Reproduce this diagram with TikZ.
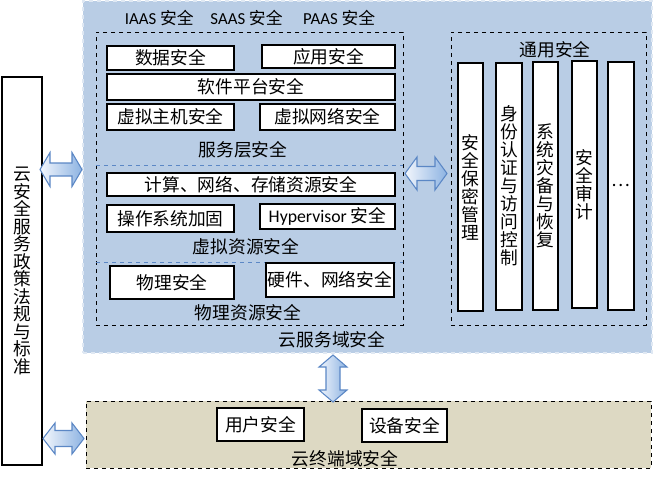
\documentclass[tikz,border=0pt]{standalone}
\usepackage{fontspec}
\setmainfont{Noto Sans CJK SC}
\newfontfamily\latin{Carlito}
\usetikzlibrary{fit}
\definecolor{cloudblue}{HTML}{B9CDE5}
\definecolor{termtan}{HTML}{DDD9C3}
\definecolor{arrowblue}{HTML}{5B87C5}
\definecolor{arrowlight}{HTML}{F2F6FC}
\definecolor{arrowdark}{HTML}{8DB3E2}
\newcommand\hdarrow[6]{\path[barrow] (#1,#3) -- ({#1+#6},{#3-#4}) -- ({#1+#6},{#3-#5}) -- ({#2-#6},{#3-#5}) -- ({#2-#6},{#3-#4}) -- (#2,#3) -- ({#2-#6},{#3+#4}) -- ({#2-#6},{#3+#5}) -- ({#1+#6},{#3+#5}) -- ({#1+#6},{#3+#4}) -- cycle;}
\newcommand\vdarrow[6]{\path[barrow] (#1,#2) -- ({#1+#4},{#2+#6}) -- ({#1+#5},{#2+#6}) -- ({#1+#5},{#3-#6}) -- ({#1+#4},{#3-#6}) -- (#1,#3) -- ({#1-#4},{#3-#6}) -- ({#1-#5},{#3-#6}) -- ({#1-#5},{#2+#6}) -- ({#1-#4},{#2+#6}) -- cycle;}
\begin{document}
\begin{tikzpicture}[x=0.75pt,y=-0.75pt,
  font=\fontsize{13.3}{13.5}\selectfont,
  box/.style={draw=black, fill=white, line width=0.8pt, inner sep=0pt},
  region/.style={draw=black, dashed, line width=0.7pt, inner sep=0pt},
  sepline/.style={draw=arrowblue, dashed, line width=0.6pt},
  barrow/.style={draw=arrowblue, line width=0.8pt, left color=arrowlight, right color=arrowdark},
  lbl/.style={inner sep=0pt},
  vlbl/.style={inner sep=0pt, align=center, font=\fontsize{13.3}{13.5}\selectfont}]
\useasboundingbox (0,0) rectangle (653,476);

% cloud service domain background
\node[fit={(83,1)(652,353)}, fill=cloudblue, draw=white!55!cloudblue, dashed, line width=0.8pt, inner sep=0pt] (cloud) {};
\node[lbl, font=\fontsize{12.6}{12.6}\selectfont] (tiers) at (250,18) {{\latin IAAS} 安全\quad{\latin SAAS} 安全\quad\ {\latin PAAS} 安全};

% left dashed region
\node[region, fit={(96,32)(403,325)}] (layers) {};
\coordinate (s1l) at (96,165); \coordinate (s1r) at (403,165);
\coordinate (s2l) at (96,262); \coordinate (s2r) at (403,262);
\draw[sepline] (s1l) -- (s1r);
\draw[sepline] (s2l) -- (s2r);

\node[box, fit={(107,46)(234,70)}] (data) {};
\node[lbl] at (data.center) {数据安全};
\node[box, fit={(262,45)(395,68)}] (app) {};
\node[lbl] at (app.center) {应用安全};
\node[box, fit={(107,74)(395,100)}] (soft) {};
\node[lbl] at (soft.center) {软件平台安全};
\node[box, fit={(107,104)(234,130)}] (vhost) {};
\node[lbl] at (vhost.center) {虚拟主机安全};
\node[box, fit={(260,104)(395,130)}] (vnet) {};
\node[lbl] at (vnet.center) {虚拟网络安全};
\node[lbl] (svc) at (243,150) {服务层安全};

\node[box, fit={(107,173)(395,196)}] (compute) {};
\node[lbl] at (compute.center) {计算、网络、存储资源安全};
\node[box, fit={(107,205)(234,232)}] (os) {};
\node[lbl] at (os.center) {操作系统加固};
\node[box, fit={(260,204)(395,229)}] (hyper) {};
\node[lbl] at (hyper.center) {{\latin Hypervisor} 安全};
\node[lbl] (virt) at (246,247) {虚拟资源安全};

\node[box, fit={(110,266)(234,299)}] (phys) {};
\node[lbl] at (phys.center) {物理安全};
\node[box, fit={(266,263)(394,297)}] (hw) {};
\node[lbl] at (hw.center) {硬件、网络安全};
\node[lbl] (physres) at (248,313) {物理资源安全};

\node[lbl] (cloudlbl) at (332,340) {云服务域安全};

% right dashed region
\node[region, fit={(451,32)(646,325)}] (common) {};
\node[lbl] (commonlbl) at (555,50) {通用安全};
\node[box, fit={(458,63)(483,311)}] (c1) {};
\node[box, fit={(496,63)(522,310)}] (c2) {};
\node[box, fit={(533,62)(558,310)}] (c3) {};
\node[box, fit={(572,61)(597,308)}] (c4) {};
\node[box, fit={(608,62)(634,310)}] (c5) {};
\node[vlbl] (t1) at (470.5,187) {安\\全\\保\\密\\管\\理};
\node[vlbl] (t2) at (509,186) {身\\份\\认\\证\\与\\访\\问\\控\\制};
\node[vlbl] (t3) at (545.5,186) {系\\统\\灾\\备\\与\\恢\\复};
\node[vlbl] (t4) at (584.5,185) {安\\全\\审\\计};
\node[lbl] (t5) at (621,185) {…};

% left policy column
\node[box, fit={(2,77)(42,465)}] (policy) {};
\node[vlbl, font=\fontsize{13.3}{13.1}\selectfont] (policylbl) at (22,271) {云\\安\\全\\服\\务\\政\\策\\法\\规\\与\\标\\准};

% terminal domain
\node[fit={(86,401)(651,468)}, fill=termtan, draw=black, dashed, line width=0.7pt, inner sep=0pt] (term) {};
\node[box, fit={(217,408)(304,441)}] (user) {};
\node[lbl] at (user.center) {用户安全};
\node[box, fit={(362,409)(447,442)}] (dev) {};
\node[lbl] at (dev.center) {设备安全};
\node[lbl] (termlbl) at (345,459) {云终端域安全};

% block double arrows
\hdarrow{40}{82}{169.5}{17}{6.5}{10}
\hdarrow{405}{447}{173.5}{16.5}{7}{12}
\hdarrow{43}{84}{438.5}{15.5}{8}{12}
\vdarrow{333}{355}{402}{14}{7}{12}
\end{tikzpicture}
\end{document}
